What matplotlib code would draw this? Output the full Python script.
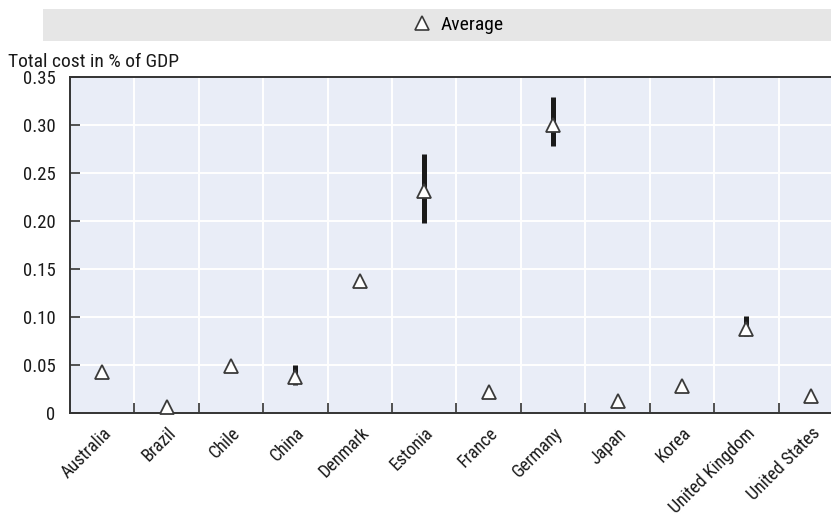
import numpy as np
import matplotlib
matplotlib.use("Agg")
import matplotlib.pyplot as plt
from matplotlib.patches import Rectangle
from matplotlib.lines import Line2D

plt.rcParams['font.family'] = ['Liberation Sans Narrow', 'Roboto Condensed', 'DejaVu Sans']
plt.rcParams['font.stretch'] = 'condensed'

countries = ["Australia", "Brazil", "Chile", "China", "Denmark", "Estonia",
             "France", "Germany", "Japan", "Korea", "United Kingdom", "United States"]
average = [0.043, 0.006, 0.049, 0.038, 0.137, 0.231, 0.022, 0.300, 0.012, 0.028, 0.088, 0.018]
range_low = [np.nan, np.nan, np.nan, 0.029, np.nan, 0.198, np.nan, 0.278, np.nan, np.nan, 0.080, np.nan]
range_high = [np.nan, np.nan, np.nan, 0.050, np.nan, 0.270, np.nan, 0.329, np.nan, np.nan, 0.101, np.nan]
yticks = [0, 0.05, 0.10, 0.15, 0.20, 0.25, 0.30, 0.35]
ytick_labels = ["0", "0.05", "0.10", "0.15", "0.20", "0.25", "0.30", "0.35"]

W, H = 831, 518
fig = plt.figure(figsize=(W / 100, H / 100), dpi=100)
# axes runs past the right edge of the figure
ax = fig.add_axes([70 / W, 1 - 413 / H, 773 / W, 336 / H])
ax.set_facecolor('#e9edf7')

x = np.arange(len(countries))

# min-max bars
for xi, lo, hi in zip(x, range_low, range_high):
    if not np.isnan(lo):
        ax.vlines(xi, lo, hi, color='#1a1a1a', linewidth=3.6, zorder=3)

ax.plot(x, average, linestyle='none', marker='^', markersize=10.5,
        markerfacecolor='white', markeredgecolor='#3a3a3a',
        markeredgewidth=1.3, zorder=4, clip_on=False)

ax.set_xlim(-0.5, len(countries) - 0.5)
ax.set_ylim(0, 0.35)

ax.set_xticks(x[:-1] + 0.5)
ax.set_xticklabels([])
ax.set_xticks(x, minor=True)
ax.set_xticklabels(countries, minor=True, rotation=45, ha='right',
                   rotation_mode='anchor', fontsize=13, color='#1a1a1a')
ax.tick_params(axis='x', which='minor', length=0, pad=8)
ax.tick_params(axis='x', which='major', direction='in', length=7,
               width=1.2, color='#333333')

ax.set_yticks(yticks)
ax.set_yticklabels(ytick_labels, fontsize=13.5, color='#1a1a1a')
ax.tick_params(axis='y', direction='in', length=7, width=1.2,
               color='#333333', pad=10.5)

ax.grid(True, which='major', color='white', linewidth=1.4)
ax.set_axisbelow(True)

for side in ['left', 'bottom', 'top']:
    ax.spines[side].set_color('#333333')
    ax.spines[side].set_linewidth(1.4)
ax.spines['right'].set_visible(False)

fig.text(8 / W, 1 - 62 / H, "Total cost in % of GDP", fontsize=14,
         color='#1a1a1a', va='center', ha='left')

# legend band
fig.add_artist(Rectangle((43 / W, 1 - 41 / H), (W - 43) / W, 32 / H,
                         transform=fig.transFigure, facecolor='#e6e6e6',
                         edgecolor='none', zorder=0))
handle = Line2D([], [], linestyle='none', marker='^', markersize=9.5,
                markerfacecolor='white', markeredgecolor='#3a3a3a',
                markeredgewidth=1.2)
fig.legend([handle], ["Average"], loc='center', bbox_to_anchor=(458 / W, 1 - 25 / H),
           frameon=False, fontsize=14, handlelength=1, handletextpad=0.5)

fig.savefig("out.png", dpi=100)
